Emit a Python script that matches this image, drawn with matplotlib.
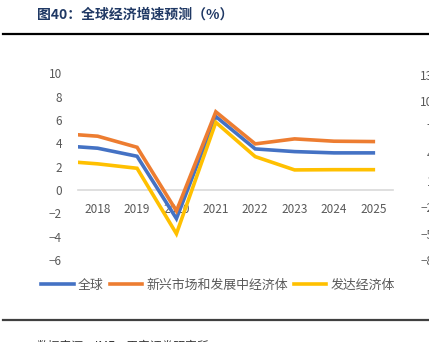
import matplotlib
matplotlib.use("Agg")
import matplotlib.pyplot as plt

plt.rcParams['font.family'] = ['Noto Sans CJK SC', 'DejaVu Sans']

# 2017 point only exists so the lines run in from the left edge
years = ['2017', '2018', '2019', '2020', '2021', '2022', '2023', '2024', '2025']
world = [3.82, 3.58, 2.89, -2.45, 6.3, 3.52, 3.29, 3.18, 3.18]
emde = [4.85, 4.61, 3.66, -1.8, 6.7, 3.95, 4.38, 4.18, 4.15]
adv = [2.50, 2.24, 1.86, -3.75, 5.8, 2.86, 1.72, 1.74, 1.74]
names = ['全球', '新兴市场和发展中经济体', '发达经济体']
colors = ['#4472C4', '#ED7D31', '#FFC000']
left_ticks = [-6, -4, -2, 0, 2, 4, 6, 8, 10]
right_ticks = [-8, -5, -2, 1, 4, 7, 10, 13]

fig = plt.figure(figsize=(4.29, 3.42), dpi=100)
W, H = 429, 342
ax = fig.add_axes([78 / W, 1 - 260 / H, (393 - 78) / W, (260 - 73.3) / H])

x = list(range(len(years)))
for ys, c, n in zip([world, emde, adv], colors, names):
    ax.plot(x, ys, color=c, lw=2.6, label=n, solid_joinstyle='miter', zorder=3)

ax.set_xlim(0.5, 8.5)
ax.set_ylim(-6, 10)
ax.set_yticks(left_ticks)
ax.set_xticks(x[1:])
ax.set_xticklabels(years[1:])
for s in ['top', 'right', 'left']:
    ax.spines[s].set_visible(False)
ax.spines['bottom'].set_position(('data', 0))
ax.spines['bottom'].set_color('#D9D9D9')
ax.spines['bottom'].set_linewidth(1.2)
ax.spines['bottom'].set_zorder(1)
ax.tick_params(axis='x', length=0, pad=9.5, labelsize=8.5, labelcolor='#595959')
ax.tick_params(axis='y', length=0, pad=11.5, labelsize=8.5, labelcolor='#595959')
ax.patch.set_alpha(0)

ax2 = ax.twinx()
ax2.set_ylim(-7.81, 13.19)
ax2.set_yticks(right_ticks)
for s in ax2.spines.values():
    s.set_visible(False)
ax2.tick_params(axis='y', length=0, pad=29, labelsize=8.5, labelcolor='#595959')
for t in ax2.get_yticklabels():
    t.set_horizontalalignment('right')

leg = fig.legend(*ax.get_legend_handles_labels(), loc='center', bbox_to_anchor=(218 / W, 1 - 285 / H),
                 ncol=3, frameon=False, fontsize=9.3, handlelength=2.5, handletextpad=0.3,
                 columnspacing=0.5, labelcolor='#595959')

fig.text(37 / W, 1 - 15 / H, '图40：全球经济增速预测（%）', fontsize=10, fontweight='bold',
         color='#1F3864', va='center', ha='left')
fig.add_artist(plt.Line2D([3 / W, 1], [1 - 34 / H] * 2, color='black', lw=1.6))
fig.add_artist(plt.Line2D([3 / W, 1], [1 - 320 / H] * 2, color='#404040', lw=1.6))
fig.text(37 / W, 1 - 346 / H, '数据来源：IMF，平安证券研究所', fontsize=8.5, color='#333333',
         va='center', ha='left')

fig.savefig('out.png', dpi=100)
